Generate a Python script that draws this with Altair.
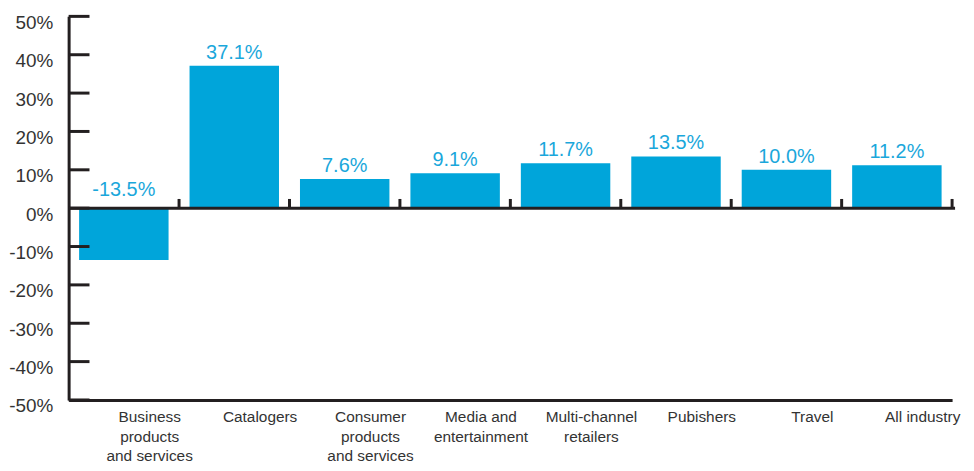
import altair as alt
import pandas as pd

categories = ["Business|products|and services", "Catalogers", "Consumer|products|and services",
              "Media and|entertainment", "Multi-channel|retailers", "Pubishers", "Travel", "All industry"]
values = [-13.5, 37.1, 7.6, 9.1, 11.7, 13.5, 10.0, 11.2]
y_ticks = [-50, -40, -30, -20, -10, 0, 10, 20, 30, 40, 50]
boundaries = [1, 2, 3, 4, 5, 6, 7, 8]

df = pd.DataFrame({"cat": categories, "v": values,
                   "lab": [f"{v:.1f}%" for v in values]})
ticks_df = pd.DataFrame({"t": y_ticks})
bound_df = pd.DataFrame({"b": boundaries})

W, H = 889, 386
DARK = "#231F20"
BLUE = "#00A5DA"
FONT = "Liberation Sans"

yscale = alt.Scale(domain=[-50, 50], nice=False, zero=False)
xscale = alt.Scale(domain=categories, paddingInner=0.19, paddingOuter=0.095)

y_axis = alt.Axis(values=y_ticks, labelExpr="datum.value + '%'", domain=True,
                  domainWidth=3, domainColor=DARK, ticks=False, grid=False,
                  labelFontSize=19, labelPadding=16, labelOffset=6,
                  labelColor="#333333", labelFont=FONT, labelOverlap=False,
                  labelFlush=False, labelBound=False)
x_axis = alt.Axis(orient="bottom", domain=True, domainWidth=3, domainColor=DARK,
                  ticks=False, labelAngle=0, labelExpr="split(datum.label, '|')",
                  labelFontSize=15.5, labelLineHeight=19.5, labelOffset=26,
                  labelPadding=10, labelColor="#333333", labelFont=FONT,
                  labelLimit=0, grid=False, labelOverlap=False)

x_enc = alt.X("cat:N", scale=xscale, sort=categories, title=None, axis=x_axis)

bars = alt.Chart(df).mark_bar(color=BLUE).encode(
    x=x_enc, y=alt.Y("v:Q", scale=yscale, title=None, axis=y_axis))

pos_text = alt.Chart(df).transform_filter("datum.v >= 0").mark_text(
    color="#1AA7DB", fontSize=20, dy=-7, baseline="alphabetic", font=FONT
).encode(x=x_enc, y=alt.Y("v:Q", scale=yscale, title=None, axis=y_axis), text="lab:N")

neg_text = alt.Chart(df).transform_filter("datum.v < 0").mark_text(
    color="#1AA7DB", fontSize=20, dy=-12, baseline="alphabetic", font=FONT
).encode(x=x_enc, y=alt.Y(datum=0, scale=yscale, title=None, axis=y_axis), text="lab:N")

ytick_rules = alt.Chart(ticks_df).mark_rule(color=DARK, strokeWidth=3).encode(
    y=alt.Y("t:Q", scale=yscale, title=None, axis=y_axis), x=alt.value(0), x2=alt.value(21))

zero_line = alt.Chart(ticks_df).transform_filter("datum.t == 0").mark_rule(
    color=DARK, strokeWidth=3).encode(y=alt.Y("t:Q", scale=yscale, title=None, axis=y_axis),
                                      x=alt.value(0), x2=alt.value(W + 3))

bound_ticks = alt.Chart(bound_df).mark_rule(color=DARK, strokeWidth=3).encode(
    x=alt.X("b:Q", scale=alt.Scale(domain=[0, 8], nice=False, zero=False), axis=None),
    y=alt.Y(datum=0, scale=yscale, title=None, axis=y_axis), y2=alt.datum(2.4))

main = alt.layer(bars, zero_line, ytick_rules, pos_text, neg_text)

chart = alt.layer(main, bound_ticks).resolve_scale(
    x="independent"
).properties(
    width=W, height=H,
    autosize=alt.AutoSizeParams(type="none"),
    padding={"left": 61, "top": 7, "right": 14, "bottom": 62},
    background="white",
).configure_view(stroke=None).configure_axis(labelOverlap=False)

chart.save("out.html", embed_options={"renderer": "svg", "actions": False})
